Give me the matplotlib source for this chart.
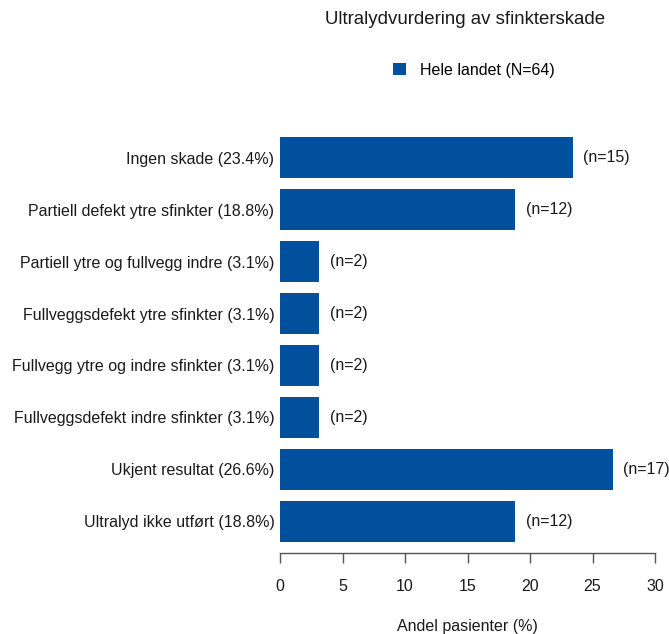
import matplotlib
matplotlib.use("Agg")
import matplotlib.pyplot as plt
from matplotlib.patches import Patch

categories = [
    "Ingen skade",
    "Partiell defekt ytre sfinkter",
    "Partiell ytre og fullvegg indre",
    "Fullveggsdefekt ytre sfinkter",
    "Fullvegg ytre og indre sfinkter",
    "Fullveggsdefekt indre sfinkter",
    "Ukjent resultat",
    "Ultralyd ikke utført",
]
percent = [23.4, 18.8, 3.1, 3.1, 3.1, 3.1, 26.6, 18.8]
counts = [15, 12, 2, 2, 2, 2, 17, 12]
xticks = [0, 5, 10, 15, 20, 25, 30]
title = "Ultralydvurdering av sfinkterskade"
legend_label = "Hele landet (N=64)"
xlabel = "Andel pasienter (%)"

plt.rcParams['font.family'] = ['Liberation Sans', 'DejaVu Sans']
W, H = 669, 634
fig = plt.figure(figsize=(W / 100, H / 100), dpi=100)

left, right = 280, 655
top, bottom = 132, 553
ax = fig.add_axes([left / W, 1 - bottom / H, (right - left) / W, (bottom - top) / H])

fs = 11.5
txt = "#1a1a1a"
color = "#00509E"
ypos = list(range(len(categories)))
ax.barh(ypos, percent, height=0.79, color=color, edgecolor="none")
ax.set_xlim(0, 30)
ax.set_ylim(len(categories) - 1 + 0.615, -0.5)

for y, p, n in zip(ypos, percent, counts):
    ax.annotate(f"(n={n})", xy=(p, y), xytext=(11, 0), textcoords="offset pixels",
                va="center", ha="left", fontsize=fs, color=txt)

ax.set_yticks(ypos)
ax.set_yticklabels([f"{c} ({p:.1f}%)" for c, p in zip(categories, percent)], fontsize=fs, color=txt)
ax.tick_params(axis="y", length=0, pad=4)

ax.set_xticks(xticks)
ax.set_xticklabels([str(t) for t in xticks], fontsize=fs, color=txt)
ax.tick_params(axis="x", length=7, width=1, color="#555555", pad=11.5)

for s in ["top", "right", "left"]:
    ax.spines[s].set_visible(False)
ax.spines["bottom"].set_color("#555555")
ax.spines["bottom"].set_linewidth(1)
ax.spines["bottom"].set_bounds(0, 30)

fig.text((left + right) / 2 / W, 1 - 627 / H, xlabel, ha="center", va="center", fontsize=fs, color=txt)
fig.text(465 / W, 1 - 20 / H, title, ha="center", va="center", fontsize=13.4, color=txt)

leg = fig.legend(handles=[Patch(facecolor=color, edgecolor="none", label=legend_label)],
                 loc="center", bbox_to_anchor=(474 / W, 1 - 70 / H),
                 frameon=False, fontsize=fs, handlelength=0.8, handleheight=0.8, handletextpad=0.9)

fig.savefig("out.png", dpi=100)
